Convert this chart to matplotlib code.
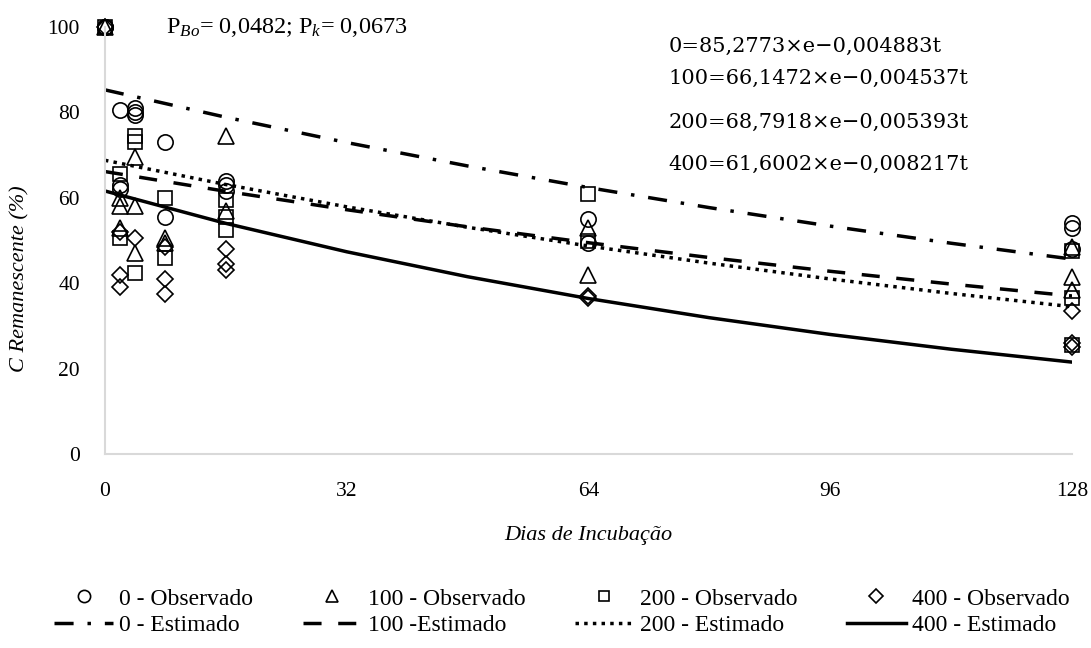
import numpy as np
import matplotlib
matplotlib.use("Agg")
import matplotlib.pyplot as plt

plt.rcParams['font.family'] = ['Liberation Serif', 'DejaVu Serif']
plt.rcParams['mathtext.fontset'] = 'custom'
plt.rcParams['mathtext.rm'] = 'Liberation Serif'
plt.rcParams['mathtext.it'] = 'Liberation Serif:italic'

#########################
##    dados            ##
#########################

# observados (dias, C remanescente %)
t_0 = [0, 0, 0, 2, 2, 2, 4, 4, 4, 8, 8, 16, 16, 16, 64, 64, 128, 128, 128]
c_0 = [100, 100, 100, 80.5, 63, 62, 81, 80, 79.5, 73, 55.5, 64, 63, 61.5, 55, 49.5, 54, 53, 48]

t_100 = [0, 2, 2, 2, 4, 4, 4, 8, 8, 16, 16, 64, 64, 128, 128, 128]
c_100 = [100, 60, 58, 53, 69.5, 58, 47, 50.5, 49.5, 74.5, 57, 53, 42, 48.5, 41.5, 38.5]

t_200 = [0, 2, 2, 4, 4, 4, 8, 8, 16, 16, 16, 64, 64, 128, 128, 128]
c_200 = [100, 65.5, 50.5, 74.5, 73, 42.5, 60, 46, 59.5, 55.5, 52.5, 61, 50, 47.5, 36.5, 25.5]

t_400 = [0, 2, 2, 2, 4, 8, 8, 8, 16, 16, 16, 64, 64, 128, 128, 128]
c_400 = [100, 52, 42, 39, 50.5, 48.5, 41, 37.5, 48, 44.5, 43, 37, 36.5, 33.5, 26, 25]

# estimados
t_est = [0, 16, 32, 48, 64, 80, 96, 112, 128]
est_0 = [85.28, 78.87, 72.94, 67.46, 62.39, 57.70, 53.37, 49.36, 45.65]
est_100 = [66.15, 61.52, 57.21, 53.20, 49.48, 46.01, 42.79, 39.80, 37.01]
est_200 = [68.79, 63.11, 57.89, 53.10, 48.71, 44.69, 40.99, 37.60, 34.49]
est_400 = [61.60, 54.01, 47.36, 41.52, 36.41, 31.92, 27.99, 24.54, 21.52]

equacoes = ["0=85,2773\u00d7e\u22120,004883t",
            "100=66,1472\u00d7e\u22120,004537t",
            "200=68,7918\u00d7e\u22120,005393t",
            "400=61,6002\u00d7e\u22120,008217t"]

#########################
##    grafico          ##
#########################

fig = plt.figure(figsize=(10.91, 6.48), dpi=100)
ax = fig.add_axes([0.0962, 0.2994, 0.8864, 0.6589])

ms = 11
mew = 1.2
o0, = ax.plot(t_0, c_0, 'o', ms=ms, mfc='none', mec='black', mew=mew, clip_on=False, label='0 - Observado')
o1, = ax.plot(t_100, c_100, '^', ms=ms, mfc='none', mec='black', mew=mew, clip_on=False, label='100 - Observado')
o2, = ax.plot(t_200, c_200, 's', ms=ms - 1.5, mfc='none', mec='black', mew=mew, clip_on=False, label='200 - Observado')
o3, = ax.plot(t_400, c_400, 'D', ms=ms - 2.5, mfc='none', mec='black', mew=mew, clip_on=False, label='400 - Observado')

lw = 2.5
e0, = ax.plot(t_est, est_0, color='black', lw=lw, dashes=(5.5, 4, 1, 4), label='0 - Estimado')
e1, = ax.plot(t_est, est_100, color='black', lw=lw, dashes=(5.2, 4.8), label='100 -Estimado')
e2, = ax.plot(t_est, est_200, color='black', lw=lw, dashes=(1, 1.5), label='200 - Estimado')
e3, = ax.plot(t_est, est_400, color='black', lw=lw, ls='-', label='400 - Estimado')

ax.set_xlim(0, 128)
ax.set_ylim(0, 100)
ax.set_xticks([0, 32, 64, 96, 128])
ax.set_yticks([0, 20, 40, 60, 80, 100])
ax.tick_params(axis='both', length=0, labelsize=15.5)
ax.tick_params(axis='x', pad=20)
ax.tick_params(axis='y', pad=18)
for s in ['top', 'right']:
    ax.spines[s].set_visible(False)
for s in ['left', 'bottom']:
    ax.spines[s].set_color('#d9d9d9')
    ax.spines[s].set_linewidth(1.5)

ax.set_xlabel('Dias de Incubação', fontsize=16, style='italic', labelpad=18)
ax.set_ylabel('C Remanescente (%)', fontsize=16, style='italic')
ax.yaxis.set_label_coords(-0.078, 0.41)

ax.text(0.063, 1.0, r'P$_{\it Bo}$= 0,0482; P$_{\it k}$= 0,0673', transform=ax.transAxes,
        fontsize=17.5, va='center', ha='left')
eq_y = [0.955, 0.88, 0.777, 0.679]
for txt, yy in zip(equacoes, eq_y):
    ax.text(0.583, yy, txt, transform=ax.transAxes, fontsize=15, va='center', ha='left',
            family=['DejaVu Serif'])

handles = [o0, e0, o1, e1, o2, e2, o3, e3]
fig.legend(handles=handles, labels=[h.get_label() for h in handles], ncol=4,
           loc='lower center', bbox_to_anchor=(0.515, -0.014), frameon=False, fontsize=17,
           handlelength=2.5, columnspacing=2.1, handletextpad=0.25, labelspacing=0.2,
           markerscale=0.8)

plt.savefig('out.png', dpi=100)
